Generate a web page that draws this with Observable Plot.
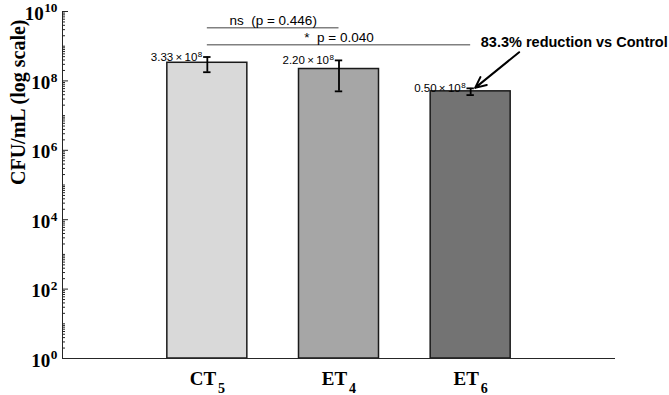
<!DOCTYPE html>
<html>
<head>
<meta charset="utf-8">
<script src="https://cdn.jsdelivr.net/npm/d3@7"></script>
<script src="https://cdn.jsdelivr.net/npm/@observablehq/plot@0.6"></script>
<style>
  body { margin: 0; background: #fff; }
</style>
</head>
<body>
<div id="chart"></div>
<script>
// Bacterial counts per group (mean ± SD, CFU/mL)
const categories = ["CT_5", "ET_4", "ET_6"];
const means = [3.33e8, 2.20e8, 0.50e8];
const sds = [1.55e8, 1.70e8, 0.11e8];

// Pairwise comparisons against the control group
const comparisonPairs = [[0, 1], [0, 2]];
const comparisonLabels = ["ns  (p = 0.446)", "*  p = 0.040"];

// Labelled powers of ten on the y axis
const yTickPowers = [0, 2, 4, 6, 8, 10];

const yTitle = "CFU/mL (log scale)";
const annotationText = "83.3% reduction vs Control";

// Styling
const fills = ["#d9d9d9", "#a6a6a6", "#737373"];
const bracketLevels = [3.4e9, 1.1e9];
const serif = "'Liberation Serif', 'Times New Roman', serif";
const sans = "'Liberation Sans', Arial, sans-serif";
const axisColor = "#262626";

const W = 669, H = 395, mL = 62, mR = 54, mT = 11, mB = 37;
const xDomain = [-1.1, 3.1];
const frameW = W - mL - mR;
const unit = frameW / (xDomain[1] - xDomain[0]); // pixels per category step
const halfBar = 40 / unit;
const halfCap = 3.7 / unit;

const rows = categories.map((c, i) => ({
  i,
  mean: means[i],
  lo: means[i] - sds[i],
  hi: means[i] + sds[i],
  fill: fills[i],
  label: (means[i] / 1e8).toFixed(2) + "\u2009×\u200910^8"
}));

const brackets = comparisonPairs.map(([a, b], k) => ({
  a, b, y: bracketLevels[k], label: comparisonLabels[k]
}));

const majorTicks = yTickPowers.map(p => 10 ** p);
const minorTicks = d3.range(0, 10)
  .flatMap(k => d3.range(1, 10).map(m => m * 10 ** k))
  .concat([1e10])
  .filter(v => !majorTicks.includes(v));

const chart = Plot.plot({
  width: W,
  height: H,
  marginLeft: mL,
  marginRight: mR,
  marginTop: mT,
  marginBottom: mB,
  x: {type: "linear", domain: xDomain},
  y: {type: "log", domain: [1, 1e10]},
  color: {type: "identity"},
  style: {fontFamily: sans, background: "#fff", color: "#000", overflow: "visible"},
  marks: [
    // bars from the baseline (10^0) up to each mean
    Plot.rectY(rows, {
      x1: d => d.i - halfBar, x2: d => d.i + halfBar,
      y1: 1, y2: "mean",
      fill: "fill", stroke: "#1a1a1a", strokeWidth: 1.5
    }),
    // error bars with caps
    Plot.ruleX(rows, {x: "i", y1: "lo", y2: "hi", stroke: "#000", strokeWidth: 1.8}),
    Plot.ruleY(rows, {y: "hi", x1: d => d.i - halfCap, x2: d => d.i + halfCap, stroke: "#000", strokeWidth: 1.8}),
    Plot.ruleY(rows, {y: "lo", x1: d => d.i - halfCap, x2: d => d.i + halfCap, stroke: "#000", strokeWidth: 1.8}),
    // mean value labels
    Plot.text(rows, {
      x: "i", y: "hi", text: "label",
      textAnchor: "end", lineAnchor: "bottom", dx: -5, dy: 4,
      fontSize: 11.5, fill: "#000"
    }),
    // significance brackets
    Plot.ruleY(brackets, {x1: "a", x2: "b", y: "y", stroke: "#808080", strokeWidth: 1.3}),
    Plot.text(brackets, {
      x: d => (d.a + d.b) / 2, y: "y", text: "label",
      lineAnchor: "bottom", dy: -3, fontSize: 13.5, fill: "#000"
    }),
    // reduction annotation with arrow
    Plot.text([annotationText], {
      x: 2.077, y: 9.5e8, text: d => d,
      textAnchor: "start", lineAnchor: "bottom",
      fontWeight: "bold", fontSize: 14.5, fill: "#000"
    }),
    Plot.arrow([annotationText], {
      x1: 2.368, y1: 6.7e8, x2: 2.034, y2: 6.3e7,
      stroke: "#000", strokeWidth: 2, headLength: 9, headAngle: 50
    }),
    // axis lines
    Plot.ruleX([xDomain[0]], {stroke: axisColor}),
    Plot.ruleY([1], {stroke: axisColor}),
    // inward y ticks
    Plot.tickY(majorTicks, {y: d => d, insetRight: frameW - 6, stroke: axisColor}),
    Plot.tickY(minorTicks, {y: d => d, insetRight: frameW - 3, stroke: axisColor}),
    // tick labels
    Plot.axisY(majorTicks, {
      tickSize: 0, tickPadding: 5, label: null,
      tickFormat: d => "10^" + Math.round(Math.log10(d)),
      fontFamily: serif, fontWeight: "bold", fontSize: 19, dy: 2
    }),
    Plot.axisX([0, 1, 2], {
      tickSize: 0, tickPadding: 13, label: null,
      tickFormat: i => categories[i],
      fontFamily: serif, fontWeight: "bold", fontSize: 19
    }),
    // y-axis title
    Plot.text([yTitle], {
      frameAnchor: "left", dx: -44, rotate: -90, text: d => d,
      fontFamily: serif, fontWeight: "bold", fontSize: 20, fill: "#000"
    })
  ]
});

document.getElementById("chart").append(chart);

// Turn "a^b" into a superscript and "a_b" into a subscript
d3.select(chart).selectAll("text").each(function () {
  const m = this.textContent.match(/^(.*?)([\^_])(.+)$/);
  if (!m) return;
  const size = parseFloat(getComputedStyle(this).fontSize) || 12;
  const isSup = m[2] === "^";
  const el = d3.select(this);
  el.text(null);
  el.append("tspan").text(m[1]);
  el.append("tspan")
    .attr("font-size", size * (isSup ? 0.7 : 0.74))
    .attr("dx", isSup ? 0.5 : size * 0.1)
    .attr("dy", isSup ? -size * 0.38 : size * 0.42)
    .text(m[3]);
});
</script>
</body>
</html>
